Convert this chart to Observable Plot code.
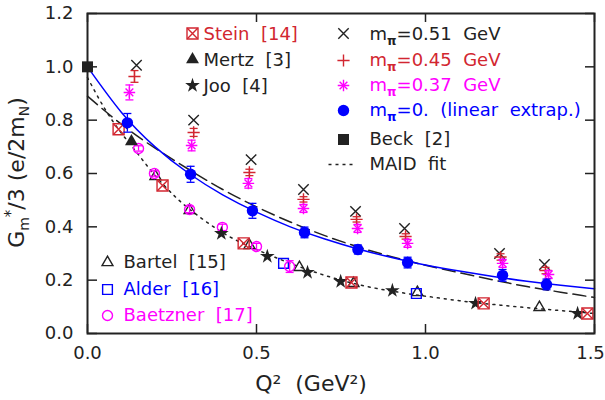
<!DOCTYPE html>
<html><head><meta charset="utf-8">
<script src="https://cdn.jsdelivr.net/npm/d3@7"></script>
<script src="https://cdn.jsdelivr.net/npm/@observablehq/plot@0.6"></script>
<style>body{margin:0;background:#fff} svg{display:block}</style>
</head><body><div id="chart"></div>
<script>
// ---- tick values ----
const xTicks = [0, 0.5, 1.0, 1.5];
const yTicks = [0, 0.2, 0.4, 0.6, 0.8, 1.0, 1.2];

// ---- lattice results ----
const q2M51 = [0.145, 0.314, 0.484, 0.639, 0.793, 0.938, 1.219, 1.352];
const gM51  = [1.006, 0.800, 0.652, 0.540, 0.458, 0.394, 0.300, 0.259];

const q2M45 = [0.139, 0.314, 0.479, 0.639, 0.796, 0.941, 1.222, 1.355];
const gM45  = [0.964, 0.754, 0.604, 0.503, 0.428, 0.364, 0.287, 0.236];
const eM45  = [0.022, 0.015, 0.012, 0.010, 0.010, 0.010, 0.012, 0.012];

const q2M37 = [0.124, 0.308, 0.476, 0.639, 0.799, 0.947, 1.228, 1.364];
const gM37  = [0.904, 0.705, 0.563, 0.469, 0.394, 0.338, 0.263, 0.221];
const eM37  = [0.028, 0.020, 0.018, 0.015, 0.015, 0.015, 0.015, 0.015];

const q2M0  = [0.118, 0.305, 0.488, 0.642, 0.800, 0.947, 1.228, 1.358];
const gM0   = [0.790, 0.597, 0.460, 0.379, 0.315, 0.266, 0.218, 0.184];
const eM0   = [0.035, 0.030, 0.028, 0.020, 0.017, 0.020, 0.022, 0.020];

// ---- experiments ----
const q2Beck = [0.0];   const gBeck = [1.0];
const q2Stein = [0.092, 0.222, 0.462, 0.781, 1.172, 1.479];
const gStein  = [0.766, 0.555, 0.338, 0.191, 0.113, 0.075];
const q2Mertz = [0.130]; const gMertz = [0.720];
const q2Joo = [0.396, 0.532, 0.651, 0.749, 0.902, 1.148, 1.450];
const gJoo  = [0.375, 0.289, 0.229, 0.195, 0.161, 0.113, 0.075];
const q2Bartel = [0.201, 0.302, 0.479, 0.627, 0.787, 0.976, 1.337];
const gBartel  = [0.589, 0.462, 0.330, 0.248, 0.188, 0.154, 0.098];
const q2Alder = [0.580, 0.973];
const gAlder  = [0.263, 0.150];
const q2Baetzner = [0.151, 0.198, 0.302, 0.399, 0.500, 0.598];
const gBaetzner  = [0.694, 0.600, 0.465, 0.398, 0.326, 0.251];
const eBaetzner  = [0.010, 0.010, 0.012, 0.012, 0.012, 0.022];

// ---- curves ----
const fitQ2   = [0, 0.1, 0.2, 0.3, 0.4, 0.5, 0.6, 0.7, 0.8, 0.9, 1.0, 1.1, 1.2, 1.3, 1.4, 1.5];
const fitM0   = [1.000, 0.830, 0.700, 0.600, 0.520, 0.455, 0.400, 0.355, 0.317, 0.285, 0.257, 0.234, 0.214, 0.196, 0.181, 0.168];
const fitDash = [0.890, 0.785, 0.695, 0.615, 0.540, 0.475, 0.418, 0.368, 0.325, 0.288, 0.256, 0.228, 0.201, 0.176, 0.155, 0.135];
const maidQ2  = [0, 0.05, 0.1, 0.15, 0.2, 0.25, 0.3, 0.4, 0.5, 0.6, 0.7, 0.8, 0.9, 1.0, 1.1, 1.2, 1.3, 1.4, 1.5];
const maidG   = [0.960, 0.845, 0.752, 0.672, 0.592, 0.525, 0.468, 0.378, 0.315, 0.263, 0.219, 0.184, 0.159, 0.140, 0.123, 0.109, 0.097, 0.086, 0.075];

// ---- colours / layout ----
const INK = "#222", RED = "#d22630", MAG = "#ff00ff", BLUE = "#0000ff";
const W = 605, H = 400, ML = 87, MR = 11, MT = 13, MB = 67;
const PW = W - ML - MR, PH = H - MT - MB;
const fmt = d3.format(".1f");

const pts = (q, g, e) => q.map((x, i) => ({x, y: g[i], e: e ? e[i] : 0}));
const capSym = {draw(c) { c.moveTo(-4, 0); c.lineTo(4, 0); }};
const lineSym = {draw(c) { c.moveTo(-14, 0); c.lineTo(14, 0); }};

function errBars(d, color) {
  return [
    Plot.ruleX(d, {x: "x", y1: p => p.y - p.e, y2: p => p.y + p.e, stroke: color, strokeWidth: 1.3}),
    Plot.dot(d, {x: "x", y: p => p.y - p.e, symbol: capSym, stroke: color, fill: "none", strokeWidth: 1.3}),
    Plot.dot(d, {x: "x", y: p => p.y + p.e, symbol: capSym, stroke: color, fill: "none", strokeWidth: 1.3})
  ];
}

const dM51 = pts(q2M51, gM51), dM45 = pts(q2M45, gM45, eM45), dM37 = pts(q2M37, gM37, eM37), dM0 = pts(q2M0, gM0, eM0);
const dBaetz = pts(q2Baetzner, gBaetzner, eBaetzner);

// legend helpers (frame-relative pixel offsets)
const legDot = (dx, dy, o) => Plot.dot([0], {x: null, y: null, frameAnchor: "top-left", dx, dy, ...o});
const legText = (dx, dy, label, fill) => Plot.text([label], {x: null, y: null, text: d => d, frameAnchor: "top-left", dx, dy, textAnchor: "start", lineAnchor: "middle", fill, fontSize: 18});

const SW = 1.4;
const plot = Plot.plot({
  width: W, height: H,
  marginLeft: ML, marginRight: MR, marginTop: MT, marginBottom: MB,
  style: {fontFamily: "DejaVu Sans", fontSize: "18px", color: INK, background: "#fff"},
  x: {domain: [0, 1.5], axis: null},
  y: {domain: [0, 1.2], axis: null},
  marks: [
    // curves
    Plot.line(pts(fitQ2, fitDash), {x: "x", y: "y", curve: "natural", stroke: INK, strokeWidth: 1.5, strokeDasharray: "13,6"}),
    Plot.line(pts(maidQ2, maidG), {x: "x", y: "y", curve: "natural", stroke: INK, strokeWidth: 1.5, strokeDasharray: "2,5"}),
    Plot.line(pts(fitQ2, fitM0), {x: "x", y: "y", curve: "natural", stroke: BLUE, strokeWidth: 1.5}),

    // experimental points
    Plot.dot(pts(q2Bartel, gBartel), {x: "x", y: "y", symbol: "triangle2", r: 5.2, stroke: INK, strokeWidth: SW}),
    Plot.dot(pts(q2Alder, gAlder), {x: "x", y: "y", symbol: "square2", r: 6.2, stroke: BLUE, strokeWidth: SW}),
    ...errBars(dBaetz, MAG),
    Plot.dot(dBaetz, {x: "x", y: "y", symbol: "circle", r: 5, fill: "none", stroke: MAG, strokeWidth: SW}),
    Plot.dot(pts(q2Joo, gJoo), {x: "x", y: "y", symbol: "star", r: 4.6, fill: INK}),
    Plot.dot(pts(q2Mertz, gMertz), {x: "x", y: "y", symbol: "triangle", r: 4.8, fill: INK}),
    Plot.dot(pts(q2Stein, gStein), {x: "x", y: "y", symbol: "square2", r: 7, stroke: RED, strokeWidth: SW}),
    Plot.dot(pts(q2Stein, gStein), {x: "x", y: "y", symbol: "times", r: 4.8, stroke: RED, strokeWidth: SW}),
    Plot.dot(pts(q2Beck, gBeck), {x: "x", y: "y", symbol: "square", r: 6.2, fill: INK}),

    // lattice points
    Plot.dot(dM51, {x: "x", y: "y", symbol: "times", r: 4.8, stroke: INK, strokeWidth: SW}),
    ...errBars(dM45, RED),
    Plot.dot(dM45, {x: "x", y: "y", symbol: "plus", r: 4, stroke: RED, strokeWidth: SW}),
    ...errBars(dM37, MAG),
    Plot.dot(dM37, {x: "x", y: "y", symbol: "plus", r: 3.8, stroke: MAG, strokeWidth: SW}),
    Plot.dot(dM37, {x: "x", y: "y", symbol: "times", r: 3.6, stroke: MAG, strokeWidth: SW}),
    ...errBars(dM0, BLUE),
    Plot.dot(dM0, {x: "x", y: "y", symbol: "circle", r: 5.7, fill: BLUE}),

    // legend: top middle
    legDot(105, 20, {symbol: "square2", r: 7, stroke: RED, strokeWidth: SW}),
    legDot(105, 20, {symbol: "times", r: 4.8, stroke: RED, strokeWidth: SW}),
    legText(116, 21, "Stein\u00a0\u00a0[14]", RED),
    legDot(105, 46, {symbol: "triangle", r: 4.8, fill: INK}),
    legText(116, 47, "Mertz\u00a0\u00a0[3]", INK),
    legDot(105, 72, {symbol: "star", r: 4.6, fill: INK}),
    legText(116, 73, "Joo\u00a0\u00a0[4]", INK),

    // legend: top right
    legDot(256, 20, {symbol: "times", r: 4.8, stroke: INK, strokeWidth: SW}),
    legText(282, 21, "m\u03c0=0.51\u00a0\u00a0GeV", INK),
    legDot(256, 47, {symbol: "plus", r: 4, stroke: RED, strokeWidth: SW}),
    legText(282, 47, "m\u03c0=0.45\u00a0\u00a0GeV", RED),
    legDot(256, 72, {symbol: "plus", r: 3.8, stroke: MAG, strokeWidth: SW}),
    legDot(256, 72, {symbol: "times", r: 3.6, stroke: MAG, strokeWidth: SW}),
    legText(282, 72, "m\u03c0=0.37\u00a0\u00a0GeV", MAG),
    legDot(256, 97, {symbol: "circle", r: 5.7, fill: BLUE}),
    legText(282, 97, "m\u03c0=0.\u00a0\u00a0(linear\u00a0\u00a0extrap.)", BLUE),
    legDot(256, 126, {symbol: "square", r: 6.2, fill: INK}),
    legText(282, 126, "Beck\u00a0\u00a0[2]", INK),
    legDot(255, 151, {symbol: lineSym, fill: "none", stroke: INK, strokeWidth: 1.5, strokeDasharray: "3,4"}),
    legText(282, 151, "MAID\u00a0\u00a0fit", INK),

    // legend: bottom left
    legDot(20, 249, {symbol: "triangle2", r: 5.2, stroke: INK, strokeWidth: SW}),
    legText(36, 249, "Bartel\u00a0\u00a0[15]", INK),
    legDot(20, 276, {symbol: "square2", r: 6.2, stroke: BLUE, strokeWidth: SW}),
    legText(36, 276, "Alder\u00a0\u00a0[16]", BLUE),
    legDot(20, 302, {symbol: "circle", r: 5, fill: "none", stroke: MAG, strokeWidth: SW}),
    legText(36, 302, "Baetzner\u00a0\u00a0[17]", MAG),

    // axes
    Plot.text(xTicks.slice(0, -1), {x: d => d, frameAnchor: "bottom", dy: 20, text: fmt, lineAnchor: "middle", fontSize: 18, fill: INK}),
    Plot.text(xTicks.slice(-1), {x: d => d, frameAnchor: "bottom", dy: 20, dx: -4, text: fmt, lineAnchor: "middle", fontSize: 18, fill: INK}),
    Plot.axisY({ticks: yTicks, tickSize: 0, tickPadding: 14, tickFormat: fmt, fontSize: 18, label: null, fill: INK}),
    Plot.tickY(yTicks, {y: d => d, insetRight: PW - 10, stroke: INK, strokeWidth: 1.5}),
    Plot.tickY(yTicks, {y: d => d, insetLeft: PW - 9, stroke: INK, strokeWidth: 1.5}),
    Plot.tickX(xTicks, {x: d => d, insetTop: PH - 9, stroke: INK, strokeWidth: 1.5}),
    Plot.tickX(xTicks, {x: d => d, insetBottom: PH - 9, stroke: INK, strokeWidth: 1.5}),
    Plot.frame({stroke: INK, strokeWidth: 2}),

    // axis titles
    Plot.text(["Q\u00b2\u00a0\u00a0(GeV\u00b2)"], {x: null, y: null, text: d => d, frameAnchor: "bottom", dx: -30, dy: 50, lineAnchor: "middle", fontSize: 22, fill: INK}),
    Plot.text(["Gm*/3 (e/2mN)"], {x: null, y: null, text: d => d, frameAnchor: "left", dx: -71, dy: -1, rotate: -90, lineAnchor: "middle", textAnchor: "middle", fontSize: 22, fill: INK})
  ]
});

// typographic sub/superscripts
d3.select(plot).selectAll("text").each(function () {
  const t = this.textContent;
  const sel = d3.select(this);
  if (t.startsWith("m\u03c0")) {
    sel.text("");
    sel.append("tspan").text("m");
    sel.append("tspan").attr("font-size", 12).attr("font-weight", "bold").attr("dy", 5).text("\u03c0");
    sel.append("tspan").attr("dy", -5).text(t.slice(2));
  } else if (t.startsWith("Gm*")) {
    sel.text("");
    sel.append("tspan").text("G");
    sel.append("tspan").attr("font-size", 14).attr("dy", 5).text("m");
    sel.append("tspan").attr("font-size", 15).attr("dy", -13).text("*");
    sel.append("tspan").attr("dy", 8).text("/3 (e/2m");
    sel.append("tspan").attr("font-size", 14).attr("dy", 5).text("N");
    sel.append("tspan").attr("dy", -5).text(")");
  }
});

document.getElementById("chart").appendChild(plot);
</script>
</body></html>
